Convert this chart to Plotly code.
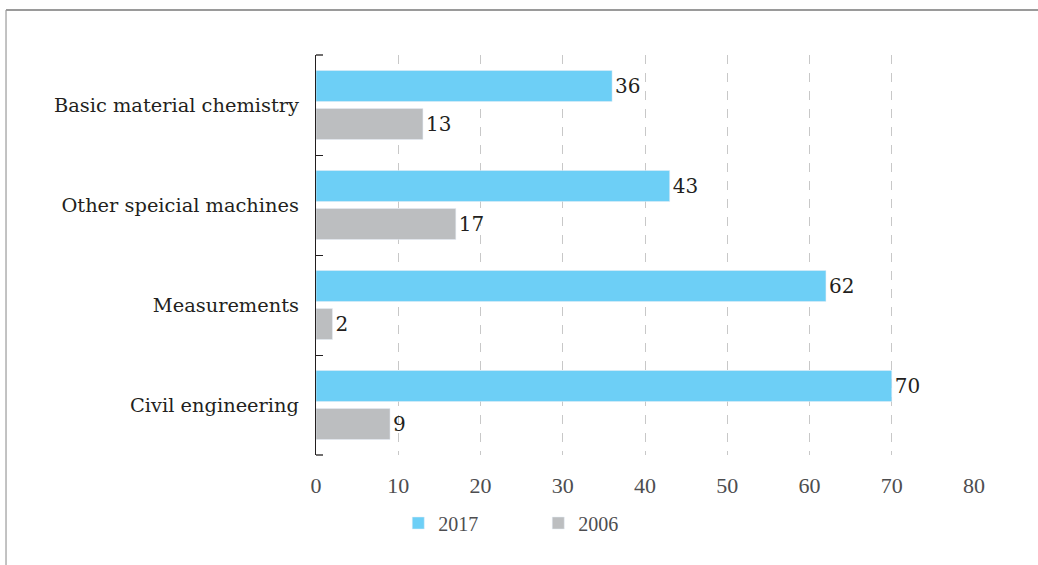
import plotly.graph_objects as go

categories = ["Basic material chemistry", "Other speicial machines", "Measurements", "Civil engineering"]
values_2017 = [36, 43, 62, 70]
values_2006 = [13, 17, 2, 9]
x_ticks = [0, 10, 20, 30, 40, 50, 60, 70, 80]

label_font = dict(family="DejaVu Serif, Liberation Serif, serif", size=19.4, color="#231f20")
value_font = dict(family="DejaVu Serif, Liberation Serif, serif", size=20, color="#231f20")
tick_font = dict(family="Liberation Serif, serif", size=22, color="#4d4d4f")

fig = go.Figure()
fig.add_trace(go.Bar(
    name="2017", y=categories, x=values_2017, orientation="h",
    marker=dict(color="#6dcff6"), text=values_2017, textposition="outside",
    textfont=value_font, cliponaxis=False,
))
fig.add_trace(go.Bar(
    name="2006", y=categories, x=values_2006, orientation="h",
    marker=dict(color="#bcbec0"), text=values_2006, textposition="outside",
    textfont=value_font, cliponaxis=False,
))

# short end ticks closing the category axis at top and bottom
end_tick = 7 / 658
frame_shapes = [
    dict(type="line", xref="paper", yref="paper", x0=0, x1=end_tick, y0=1, y1=1,
         line=dict(color="#231f20", width=1.3)),
    dict(type="line", xref="paper", yref="paper", x0=0, x1=end_tick, y0=0, y1=0,
         line=dict(color="#231f20", width=1.3)),
    dict(type="line", xref="paper", yref="paper", x0=-0.4711, x1=1.2, y0=1.1125, y1=1.1125,
         line=dict(color="#9a9a9a", width=2)),
    dict(type="line", xref="paper", yref="paper", x0=-0.4711, x1=-0.4711, y0=1.1125, y1=-0.5,
         line=dict(color="#9a9a9a", width=1.2)),
]

fig.update_layout(
    width=1038, height=565,
    margin=dict(l=316, r=64, t=55, b=110),
    paper_bgcolor="white", plot_bgcolor="white",
    barmode="group", bargap=0.24, bargroupgap=0.184,
    font=label_font,
    showlegend=True,
    legend=dict(orientation="h", x=0.125, xanchor="left", y=-0.17, yanchor="middle",
                font=dict(family="Liberation Serif, serif", size=20, color="#4d4d4f"),
                itemwidth=30, entrywidth=95, traceorder="normal"),
    xaxis=dict(
        range=[0, 80], tickvals=x_ticks, showline=False, zeroline=False,
        showgrid=True, gridcolor="#c8c8c8", griddash="dash", gridwidth=1,
        ticks="", ticklabelstandoff=15, tickfont=tick_font,
    ),
    yaxis=dict(
        autorange="reversed", showline=True, linecolor="#231f20", linewidth=1.3,
        ticks="inside", tickson="boundaries", ticklen=7, tickcolor="#231f20",
        showgrid=False, ticklabelstandoff=12, tickfont=label_font,
    ),
    shapes=frame_shapes,
)

fig.write_html("out.html")
